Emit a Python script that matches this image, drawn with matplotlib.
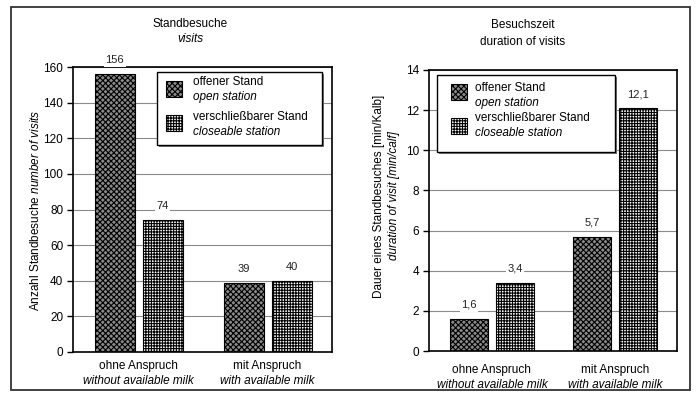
import matplotlib
matplotlib.use('Agg')
import matplotlib.pyplot as plt
from matplotlib.patches import Rectangle

plt.rcParams['font.family'] = ['Liberation Sans', 'DejaVu Sans']
plt.rcParams['mathtext.fontset'] = 'custom'
plt.rcParams['mathtext.rm'] = 'Liberation Sans'
plt.rcParams['mathtext.it'] = 'Liberation Sans:italic'
plt.rcParams['hatch.linewidth'] = 0.8

# ---- data ----
groups_de = ['ohne Anspruch', 'mit Anspruch']
groups_en = ['without available milk', 'with available milk']
series_de = ['offener Stand', 'verschließbarer Stand']
series_en = ['open station', 'closeable station']
visits_open = [156, 39]
visits_closeable = [74, 40]
duration_open = [1.6, 5.7]
duration_closeable = [3.4, 12.1]

W, H = 697, 399
fig = plt.figure(figsize=(W / 100, H / 100), dpi=100)


def px(x, y):
    return x / W, 1 - y / H


FS = 8.5
open_style = dict(facecolor='#8a8a8a', edgecolor='black', hatch='xxxxxx', linewidth=0.8)
clos_style = dict(facecolor='white', edgecolor='black', hatch='++++++', linewidth=0.8)


def panel(rect, open_vals, clos_vals, ymax, ystep, fmt, lab_y, leg):
    ax = fig.add_axes(rect)
    x = [0, 1]
    w, off = 0.31, 0.186
    b1 = ax.bar([i - off for i in x], open_vals, w, zorder=2, **open_style)
    b2 = ax.bar([i + off for i in x], clos_vals, w, zorder=2, **clos_style)
    for bars, vals in ((b1, open_vals), (b2, clos_vals)):
        for b, v in zip(bars, vals):
            ax.annotate(fmt(v), (b.get_x() + b.get_width() / 2, v),
                        xytext=(0, 10), textcoords='offset points',
                        ha='center', va='center', fontsize=8, color='#222',
                        bbox=dict(boxstyle='square,pad=0.15', fc='white', ec='none'),
                        annotation_clip=False, zorder=6)
    ax.set_xlim(-0.51, 1.5)
    ax.set_ylim(0, ymax)
    ax.set_yticks(range(0, ymax + 1, ystep))
    ax.tick_params(axis='y', direction='out', length=4, width=1, labelsize=FS, pad=3)
    ax.set_xticks([])
    ax.yaxis.grid(True, color='#8a8a8a', linewidth=0.8)
    ax.set_axisbelow(True)
    for s in ax.spines.values():
        s.set_linewidth(1.2)
    tr = ax.get_xaxis_transform()
    for i in x:
        ax.text(i, lab_y[0], groups_de[i], transform=tr, ha='center', va='center', fontsize=FS)
        ax.text(i, lab_y[1], groups_en[i], transform=tr, ha='center', va='center',
                fontsize=FS, style='italic')
    # legend box
    (bx0, by0, bx1, by1), sq_x, sq_y, txt_x, txt_y = leg
    fig.add_artist(Rectangle(px(bx0 + 2, by1 + 2), (bx1 - bx0) / W, (by1 - by0) / H,
                             transform=fig.transFigure, fc='#777', ec='none', zorder=3))
    fig.add_artist(Rectangle(px(bx0, by1), (bx1 - bx0) / W, (by1 - by0) / H,
                             transform=fig.transFigure, fc='white', ec='black', lw=1, zorder=4))
    for k, st in enumerate((open_style, clos_style)):
        fig.add_artist(Rectangle(px(sq_x, sq_y[k] + 8), 16 / W, 16 / H,
                                 transform=fig.transFigure, zorder=5, **st))
        fig.text(*px(txt_x, txt_y[k]), series_de[k], ha='left', va='center', fontsize=FS, zorder=5)
        fig.text(*px(txt_x, txt_y[k] + 15), series_en[k], ha='left', va='center',
                 fontsize=FS, style='italic', zorder=5)
    return ax


# left panel: visits
l0, t0 = px(73, 67)
l1, b1_ = px(332, 352)
panel([l0, b1_, l1 - l0, t0 - b1_], visits_open, visits_closeable, 160, 20,
      lambda v: f'{v:d}', (-0.05, -0.1),
      ((157, 72, 322, 145), 166, (89, 123), 193, (82, 117)))

# right panel: duration
r0, rt = px(429, 70)
r1, rb = px(677, 351)
panel([r0, rb, r1 - r0, rt - rb], duration_open, duration_closeable, 14, 2,
      lambda v: f'{v:.1f}'.replace('.', ','), (-0.068, -0.12),
      ((437, 75, 615, 152), 451, (92, 126), 475, (88, 118)))

# titles
fig.text(*px(190, 24), 'Standbesuche', ha='center', va='center', fontsize=FS)
fig.text(*px(190, 39), 'visits', ha='center', va='center', fontsize=FS, style='italic')
fig.text(*px(523, 25), 'Besuchszeit', ha='center', va='center', fontsize=FS)
fig.text(*px(523, 42), 'duration of visits', ha='center', va='center', fontsize=FS)

# y labels
fig.text(*px(36, 210), r'Anzahl Standbesuche $\it{number\ of\ visits}$', rotation=90,
         ha='center', va='center', fontsize=FS)
fig.text(*px(379, 196), 'Dauer eines Standbesuches [min/Kalb]', rotation=90,
         ha='center', va='center', fontsize=FS)
fig.text(*px(394, 196), 'duration of visit [min/calf]', rotation=90,
         ha='center', va='center', fontsize=FS, style='italic')

# outer frame
fig.add_artist(Rectangle(px(11, 390), (690 - 11) / W, (390 - 7) / H,
                         transform=fig.transFigure, fill=False, ec='#333', lw=1.3))

plt.savefig('out.png', dpi=100)
